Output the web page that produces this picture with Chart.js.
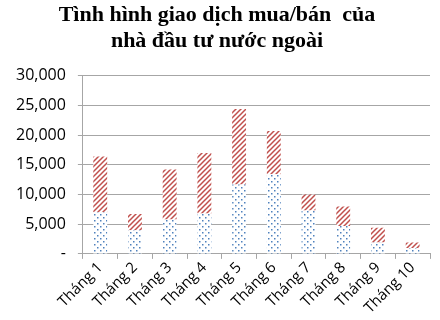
<!DOCTYPE html>
<html lang="vi">
<head>
  <meta charset="UTF-8">
  <title>Giao dịch nhà đầu tư nước ngoài</title>
  <script src="https://cdn.jsdelivr.net/npm/chart.js"></script>
  <style>
    html, body { margin: 0; padding: 0; background: #fff; }
    #wrap { width: 440px; height: 320px; }
  </style>
</head>
<body>
  <div id="wrap"><canvas id="c"></canvas></div>
  <script>
    const months = ['Tháng 1', 'Tháng 2', 'Tháng 3', 'Tháng 4', 'Tháng 5',
                    'Tháng 6', 'Tháng 7', 'Tháng 8', 'Tháng 9', 'Tháng 10'];
    const mua = [7000, 4000, 5800, 6800, 11700, 13400, 7300, 4700, 1900, 1000];
    const ban = [9400, 2700, 8400, 10200, 12700, 7300, 2700, 3300, 2500, 900];

    function dots() {
      const p = document.createElement('canvas');
      p.width = 6; p.height = 6;
      const g = p.getContext('2d');
      g.fillStyle = '#fff'; g.fillRect(0, 0, 6, 6);
      g.fillStyle = '#4f81bd';
      g.fillRect(1, 1, 1.5, 1.5);
      g.fillRect(4, 4, 1.5, 1.5);
      return g.createPattern(p, 'repeat');
    }
    function hatch() {
      const p = document.createElement('canvas');
      p.width = 5; p.height = 5;
      const g = p.getContext('2d');
      g.fillStyle = '#fff'; g.fillRect(0, 0, 5, 5);
      g.strokeStyle = '#c0504d'; g.lineWidth = 1.5;
      g.beginPath();
      g.moveTo(-1, 6); g.lineTo(6, -1);
      g.moveTo(-1, 1); g.lineTo(1, -1);
      g.moveTo(4, 6); g.lineTo(6, 4);
      g.stroke();
      return g.createPattern(p, 'repeat');
    }

    new Chart(document.getElementById('c'), {
      type: 'bar',
      data: {
        labels: months,
        datasets: [
          { label: 'Mua', data: mua, backgroundColor: dots(), barPercentage: 0.4, categoryPercentage: 1 },
          { label: 'Bán', data: ban, backgroundColor: hatch(), barPercentage: 0.4, categoryPercentage: 1 }
        ]
      },
      options: {
        responsive: true,
        maintainAspectRatio: false,
        animation: false,
        layout: { padding: { left: 4, right: 10, top: 0, bottom: 3 } },
        plugins: {
          legend: { display: false },
          tooltip: { enabled: false },
          title: {
            display: true,
            text: ['Tình hình giao dịch mua/bán  của', 'nhà đầu tư nước ngoài'],
            font: { family: '"Liberation Serif", serif', size: 22, weight: 'bold' },
            color: '#000',
            padding: { top: 2, bottom: 21 },
            lineHeight: 1.15
          }
        },
        scales: {
          x: {
            stacked: true,
            grid: { drawOnChartArea: false, color: '#a6a6a6', tickLength: 5, offset: true },
            border: { color: '#a6a6a6' },
            ticks: {
              color: '#000', maxRotation: 45, minRotation: 45, padding: 0,
              font: { family: '"Open Sans", sans-serif', size: 15 }
            }
          },
          y: {
            stacked: true,
            min: 0, max: 30000,
            grid: { color: '#a6a6a6', tickLength: 5 },
            border: { color: '#a6a6a6' },
            ticks: {
              stepSize: 5000, color: '#000', padding: 12,
              font: { family: '"Open Sans", sans-serif', size: 16 },
              callback: v => v === 0 ? '-' : v.toLocaleString('en-US')
            }
          }
        }
      }
    });
  </script>
</body>
</html>
